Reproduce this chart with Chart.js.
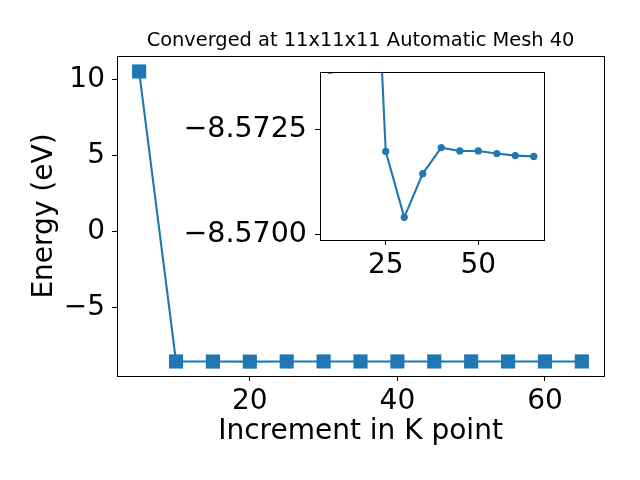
<!DOCTYPE html>
<html>
<head>
<meta charset="utf-8">
<script src="https://cdn.jsdelivr.net/npm/chart.js@4"></script>
<style>
  body { margin: 0; background: #fff; }
  #wrap { position: relative; width: 640px; height: 480px; }
  #main-chart { position: absolute; left: 0; top: 0; }
  #inset-chart { position: absolute; left: 150px; top: 60px; }
</style>
</head>
<body>
<div id="wrap">
  <canvas id="main-chart" width="640" height="480"></canvas>
  <canvas id="inset-chart" width="410" height="230"></canvas>
</div>
<script>
// k point increments and total energies (eV)
const kPoints = [5, 10, 15, 20, 25, 30, 35, 40, 45, 50, 55, 60, 65];
const energies = [10.53, -8.5739, -8.5790, -8.5815, -8.57197, -8.57040, -8.57144, -8.57206, -8.57198, -8.57198, -8.57192, -8.57187, -8.57185];

// inset leaves out the first (unconverged) point
const insetK = kPoints.slice(1);
const insetE = energies.slice(1);

const mainXTicks = [20, 40, 60];
const mainYTicks = [-5, 0, 5, 10];
const insetXTicks = [25, 50];
const insetYTicks = [-8.5725, -8.5700];

const BLUE = '#1f77b4';
const FONT = 'DejaVu Sans';
Chart.defaults.font.family = FONT;
Chart.defaults.color = '#000';

const minus = s => String(s).replace('-', '\u2212');

// full box round the plot area, like a matplotlib axes frame
const framePlugin = {
  id: 'frame',
  beforeDraw(chart, args, opts) {
    const a = chart.chartArea;
    const ctx = chart.ctx;
    if (opts.fill) {
      ctx.save();
      ctx.fillStyle = opts.fill;
      ctx.fillRect(a.left, a.top, a.right - a.left, a.bottom - a.top);
      ctx.restore();
    }
  },
  afterDraw(chart) {
    const a = chart.chartArea;
    const ctx = chart.ctx;
    ctx.save();
    ctx.strokeStyle = '#000';
    ctx.lineWidth = 1;
    ctx.strokeRect(Math.round(a.left) + 0.5, Math.round(a.top) + 0.5,
      Math.round(a.right - a.left), Math.round(a.bottom - a.top));
    ctx.restore();
  }
};

function fixedTicks(values) {
  return scale => { scale.ticks = values.map(v => ({ value: v })); };
}

function fixY(width) {
  return scale => { scale.width = width; scale.paddingTop = 0; scale.paddingBottom = 0; };
}

function fixX(height) {
  return scale => { scale.height = height; scale.paddingLeft = 0; scale.paddingRight = 0; };
}

const tickGrid = { display: true, drawOnChartArea: false, drawTicks: true, tickLength: 5, color: '#000', lineWidth: 1 };

new Chart(document.getElementById('main-chart'), {
  type: 'line',
  data: {
    datasets: [{
      data: kPoints.map((k, i) => ({ x: k, y: energies[i] })),
      borderColor: BLUE,
      backgroundColor: BLUE,
      borderWidth: 2.1,
      pointStyle: 'rect',
      pointRadius: 10,
      pointHoverRadius: 10,
      pointBorderWidth: 0,
      tension: 0
    }]
  },
  options: {
    responsive: false,
    animation: false,
    layout: { padding: { left: 0, right: 36, top: 0, bottom: 0 } },
    plugins: {
      legend: { display: false },
      tooltip: { enabled: false },
      title: {
        display: true,
        fullSize: false,
        text: 'Converged at 11x11x11 Automatic Mesh 40',
        font: { size: 19.4, weight: 'normal' },
        color: '#000',
        padding: { top: 29.5, bottom: 3.2 }
      }
    },
    scales: {
      x: {
        type: 'linear',
        min: 2, max: 68,
        afterBuildTicks: fixedTicks(mainXTicks),
        afterFit: fixX(104),
        grid: tickGrid,
        border: { display: false },
        ticks: { font: { size: 28 }, padding: 4, maxRotation: 0 },
        title: { display: true, text: 'Increment in K point', font: { size: 28 }, padding: { top: 0, bottom: 31 } }
      },
      y: {
        type: 'linear',
        min: -9.53, max: 11.55,
        afterBuildTicks: fixedTicks(mainYTicks),
        afterFit: fixY(117),
        grid: tickGrid,
        border: { display: false },
        ticks: { font: { size: 28 }, padding: 7, callback: v => minus(v) },
        title: { display: true, text: 'Energy (eV)', font: { size: 28 }, padding: { top: 28, bottom: 0 } }
      }
    }
  },
  plugins: [framePlugin]
});

new Chart(document.getElementById('inset-chart'), {
  type: 'line',
  data: {
    datasets: [{
      data: insetK.map((k, i) => ({ x: k, y: insetE[i] })),
      borderColor: BLUE,
      backgroundColor: BLUE,
      borderWidth: 2.1,
      pointRadius: 3.6,
      pointHoverRadius: 3.6,
      pointBorderWidth: 0,
      tension: 0,
      clip: 0
    }]
  },
  options: {
    responsive: false,
    animation: false,
    layout: { padding: { left: 0, right: 16, top: 12, bottom: 0 } },
    plugins: {
      legend: { display: false },
      tooltip: { enabled: false },
      frame: { fill: '#fff' }
    },
    scales: {
      x: {
        type: 'linear',
        min: 7.25, max: 67.75,
        afterBuildTicks: fixedTicks(insetXTicks),
        afterFit: fixX(50),
        grid: tickGrid,
        border: { display: false },
        ticks: { font: { size: 28 }, padding: 4, maxRotation: 0 }
      },
      y: {
        type: 'linear',
        reverse: true,
        min: -8.57386, max: -8.56986,
        afterBuildTicks: fixedTicks(insetYTicks),
        afterFit: fixY(170),
        grid: tickGrid,
        border: { display: false },
        ticks: { font: { size: 28.5 }, padding: 8, callback: v => minus(v.toFixed(4)) }
      }
    }
  },
  plugins: [framePlugin]
});
</script>
</body>
</html>
